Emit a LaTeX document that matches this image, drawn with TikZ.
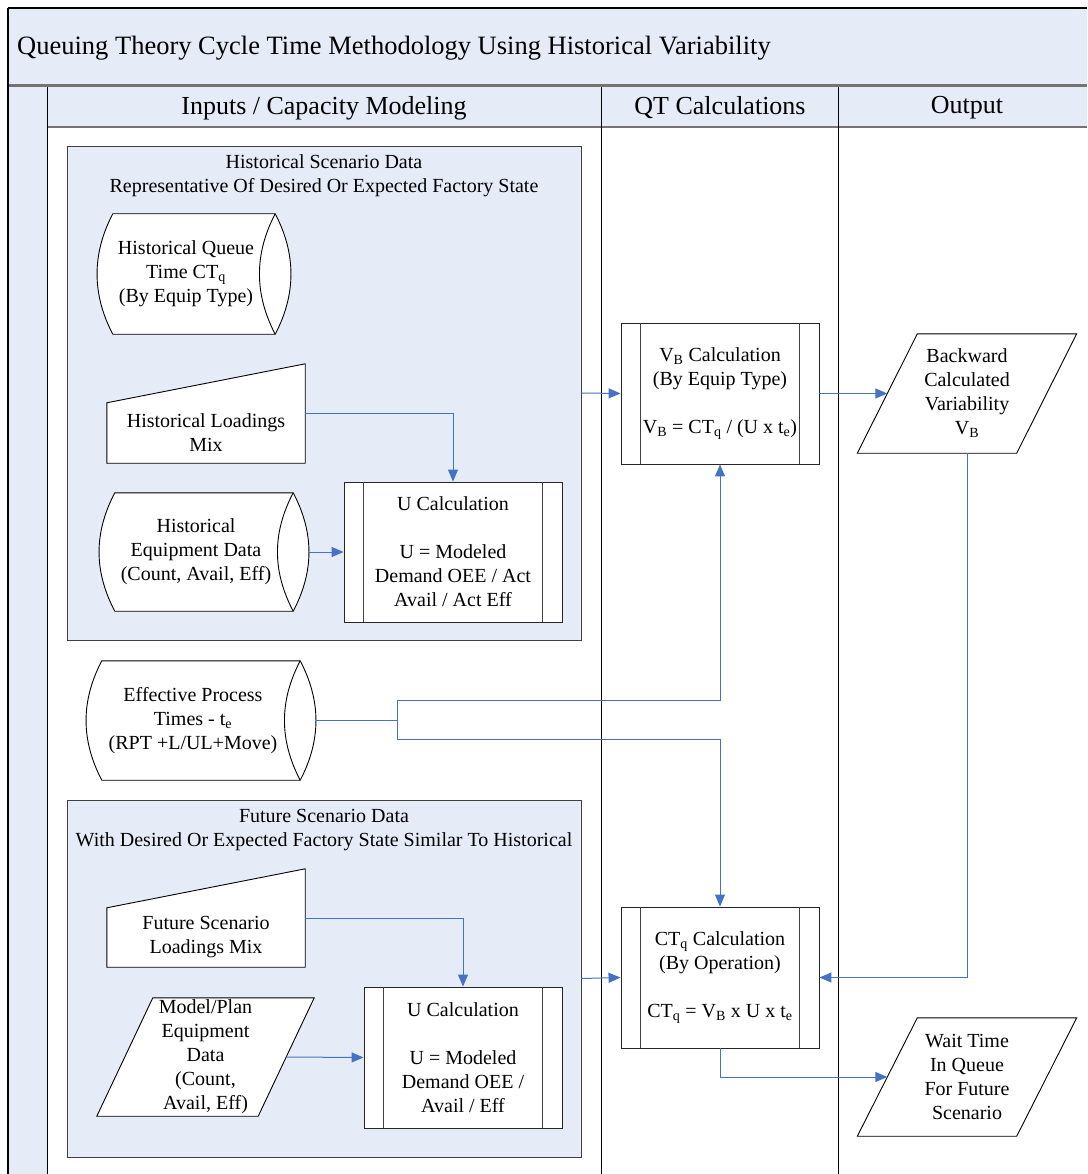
\documentclass[tikz,border=0pt]{standalone}
\usepackage{fontspec}
\setmainfont{Liberation Serif}
\usepackage{tikz}
\usetikzlibrary{arrows.meta, calc}
\definecolor{lanefill}{HTML}{E6ECF7}
\definecolor{flowblue}{HTML}{4472C4}
\pgfdeclarelayer{back}
\pgfdeclarelayer{shape}
\pgfsetlayers{back,shape,main}
% outline of a stored data shape round a node
\newcommand{\storedshape}[1]{%
  \begin{pgfonlayer}{shape}
    \draw[outline] (#1.north west) -- ([xshift=16pt]#1.north east)
      .. controls +(21,40) and +(21,-40) .. ([xshift=16pt]#1.south east)
      -- (#1.south west) .. controls +(-21,-40) and +(-21,40) .. (#1.north west) -- cycle;
    \draw[outline] ([xshift=16pt]#1.north east)
      .. controls +(-21,40) and +(-21,-40) .. ([xshift=16pt]#1.south east);
  \end{pgfonlayer}}
% manual input: slanted top
\newcommand{\manualshape}[1]{%
  \begin{pgfonlayer}{shape}
    \draw[outline] (#1.south west) -- (#1.north west) -- ([yshift=39pt]#1.north east) -- (#1.south east) -- cycle;
  \end{pgfonlayer}}
% data (parallelogram), #2 = half slant
\newcommand{\datashape}[2]{%
  \begin{pgfonlayer}{shape}
    \draw[outline] ([xshift=#2]#1.north west) -- ([xshift=#2]#1.north east)
      -- ([xshift=-#2]#1.south east) -- ([xshift=-#2]#1.south west) -- cycle;
  \end{pgfonlayer}}
% predefined process side bars
\newcommand{\sidebars}[1]{%
  \draw[outline, draw=black!75, fill=none] ([xshift=20pt]#1.north west) -- ([xshift=20pt]#1.south west)
    ([xshift=-20pt]#1.north east) -- ([xshift=-20pt]#1.south east);}

\begin{document}
\begin{tikzpicture}[x=1pt, y=-1pt,
  every node/.style={font=\fontsize{20}{24}\selectfont, align=center, inner sep=0pt},
  head/.style={font=\fontsize{26}{31}\selectfont},
  outline/.style={draw=black, fill=white, line width=0.9pt},
  grp/.style={draw=black!75, fill=lanefill, line width=0.9pt},
  procbox/.style={outline, draw=black!85, minimum width=198pt, minimum height=141pt},
  link/.style={draw=flowblue, line width=1pt},
  flow/.style={link, -{Triangle[length=12pt, width=10pt]}}]
  \useasboundingbox (0,0) rectangle (1087,1174);
  % Lanes
  \begin{pgfonlayer}{back}
    \fill[lanefill] (8,8) rectangle (1087,85);
    \fill[lanefill] (8,87) rectangle (1087,127);
    \fill[lanefill] (8,127) rectangle (47,1174);
    \draw[line width=1.2pt] (8,8) -- (1087,8);
    \draw[black!55, line width=2.5pt] (8,85.5) -- (1087,85.5);
    \draw[black!55, line width=1.5pt] (47,127) -- (1087,127);
    \draw[line width=1.5pt] (8,8) -- (8,1174);
    \draw[line width=1pt] (47,87) -- (47,1174) (601,87) -- (601,1174) (838,87) -- (838,1174);
    \node[grp, minimum width=514pt, minimum height=494pt] (hist) at (324,393) {};
    \node[grp, minimum width=514pt, minimum height=357pt] (fut) at (324,978.5) {};
  \end{pgfonlayer}
  \node[head, font=\fontsize{26.5}{31}\selectfont, anchor=west] (title) at (17,48) {Queuing Theory Cycle Time Methodology Using Historical Variability};
  \node[head] (hdrin) at (324,108) {Inputs / Capacity Modeling};
  \node[head] (hdrqt) at (720,108) {QT Calculations};
  \node[head] (hdrout) at (967,108) {Output};
  % Historical scenario
  \node (histlbl) at (324,176) {Historical Scenario Data\\Representative Of Desired Or Expected Factory State};
  \node[minimum width=146pt, minimum height=120pt] (hq) at (186,274) {Historical Queue\\Time CT\textsubscript{q}\\(By Equip Type)};
  \storedshape{hq}
  \node[minimum width=198pt, minimum height=60pt] (hload) at (206,433) {Historical Loadings\\Mix};
  \manualshape{hload}
  \node[minimum width=162pt, minimum height=118pt] (heq) at (196,552) {Historical\\Equipment Data\\(Count, Avail, Eff)};
  \storedshape{heq}
  \node[procbox, minimum width=218pt, minimum height=140pt] (ucalc1) at (453,552) {U Calculation\\[24pt]U = Modeled\\Demand OEE / Act\\Avail / Act Eff};
  \sidebars{ucalc1}
  % Process times
  \node[minimum width=182pt, minimum height=119pt] (ept) at (193,720.5) {Effective Process\\Times - t\textsubscript{e}\\(RPT +L/UL+Move)};
  \storedshape{ept}
  % Future scenario
  \node (futlbl) at (324,830) {Future Scenario Data\\With Desired Or Expected Factory State Similar To Historical};
  \node[minimum width=198pt, minimum height=59pt] (fload) at (206,937.5) {Future Scenario\\Loadings Mix};
  \manualshape{fload}
  \node[minimum width=161pt, minimum height=118pt] (mpe) at (205.5,1057) {Model/Plan\\Equipment\\Data\\(Count,\\Avail, Eff)};
  \datashape{mpe}{28pt}
  \node[procbox] (ucalc2) at (463,1057.5) {U Calculation\\[24pt]U = Modeled\\Demand OEE /\\Avail / Eff};
  \sidebars{ucalc2}
  % QT calculations
  \node[procbox] (vb) at (720,393.5) {V\textsubscript{B} Calculation\\(By Equip Type)\\[24pt]V\textsubscript{B} = CT\textsubscript{q} / (U x t\textsubscript{e})};
  \sidebars{vb}
  \node[procbox] (ctq) at (720,977.5) {CT\textsubscript{q} Calculation\\(By Operation)\\[24pt]CT\textsubscript{q} = V\textsubscript{B} x U x t\textsubscript{e}};
  \sidebars{ctq}
  % Output
  \node[minimum width=159pt, minimum height=119pt] (bcv) at (967,393.5) {Backward\\Calculated\\Variability\\V\textsubscript{B}};
  \datashape{bcv}{30pt}
  \node[minimum width=159pt, minimum height=118pt] (wait) at (967,1077) {Wait Time\\In Queue\\For Future\\Scenario};
  \datashape{wait}{30pt}
  % Connectors
  \coordinate (jup) at (397,700);
  \coordinate (jdn) at (397,739);
  \draw[flow] ([yshift=20pt]hload.east) -| (ucalc1.north);
  \draw[flow] ([xshift=32pt]heq.east) -- (ucalc1.west);
  \draw[flow] (hist.east) -- (vb.west);
  \draw[flow] ([xshift=32pt]ept.east) -| (jup) -| (vb.south);
  \draw[flow] ([xshift=32pt]ept.east) -| (jdn) -| (ctq.north);
  \draw[flow] ([yshift=19.5pt]fload.east) -| (ucalc2.north);
  \draw[flow] (mpe.east) -- (ucalc2.west);
  \draw[flow] (fut.east) -- (ctq.west);
  \draw[flow] (vb.east) -- (bcv.west);
  \draw[flow] (bcv.south) |- (ctq.east);
  \draw[flow] (ctq.south) |- (wait.west);
\end{tikzpicture}
\end{document}
